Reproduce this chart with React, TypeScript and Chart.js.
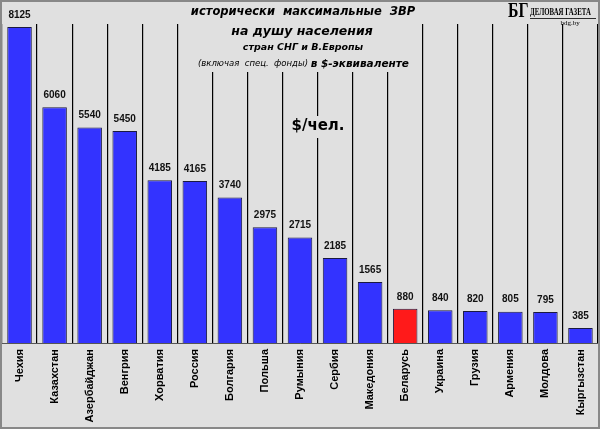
import React, { useEffect, useRef } from 'react';
import Chart from 'chart.js/auto';

const countries = ['Чехия', 'Казахстан', 'Азербайджан', 'Венгрия', 'Хорватия', 'Россия', 'Болгария', 'Польша', 'Румыния', 'Сербия', 'Македония', 'Беларусь', 'Украина', 'Грузия', 'Армения', 'Молдова', 'Кыргызстан'];
const reserves = [8125, 6060, 5540, 5450, 4185, 4165, 3740, 2975, 2715, 2185, 1565, 880, 840, 820, 805, 795, 385];
const highlight = 'Беларусь';

const BG = '#e0e0e0';

const App: React.FC = () => {
  const chartRef = useRef<HTMLCanvasElement | null>(null);

  useEffect(() => {
    document.body.style.margin = '0';
    if (!chartRef.current) return;
    const ctx = chartRef.current.getContext('2d') as CanvasRenderingContext2D;

    const decor = {
      id: 'decor',
      beforeDraw(chart: any) {
        const c = chart.ctx;
        c.save();
        c.fillStyle = BG;
        c.fillRect(0, 0, chart.width, chart.height);
        c.restore();
      },
      afterDatasetsDraw(chart: any) {
        const c = chart.ctx;
        const meta = chart.getDatasetMeta(0);
        c.save();
        // value labels
        c.fillStyle = '#111';
        c.font = 'bold 10px "Liberation Sans", Arial, sans-serif';
        c.textAlign = 'center';
        c.textBaseline = 'bottom';
        meta.data.forEach((bar: any, i: number) => {
          c.fillText(String(reserves[i]), bar.x, bar.y - 7);
        });
        // cover grid under title and logo
        c.fillStyle = BG;
        c.fillRect(192, 0, 224, 72);
        c.fillRect(420, 0, 180, 24);
        // title
        c.fillStyle = '#000';
        c.textAlign = 'center';
        c.textBaseline = 'middle';
        c.font = 'italic bold 11.5px "DejaVu Sans", sans-serif';
        c.fillText('исторически  максимальные  ЗВР', 303, 12);
        c.font = 'italic bold 12.5px "DejaVu Sans", sans-serif';
        c.fillText('на душу населения', 302, 32);
        c.font = 'italic bold 9.5px "DejaVu Sans", sans-serif';
        c.fillText('стран СНГ и В.Европы', 303, 48);
        c.font = 'italic 8.5px "DejaVu Sans", sans-serif';
        c.textAlign = 'right';
        c.fillText('(включая  спец.  фонды)', 308, 64);
        c.font = 'italic bold 10.5px "DejaVu Sans", sans-serif';
        c.textAlign = 'left';
        c.fillText(' в $-эквиваленте', 307, 64);
        c.font = 'bold 15px "DejaVu Sans", sans-serif';
        c.textAlign = 'center';
        c.fillStyle = BG;
        c.fillRect(293, 116, 50, 22);
        c.fillStyle = '#000';
        c.fillText('$/чел.', 318, 126);
        // logo
        c.font = 'bold 22px "Liberation Serif", serif';
        c.textAlign = 'left';
        c.save();
        c.translate(508, 11);
        c.scale(0.72, 1);
        c.fillText('БГ', 0, 0);
        c.restore();
        c.save();
        c.translate(530, 12);
        c.scale(0.62, 1);
        c.font = 'bold 11px "Liberation Serif", serif';
        c.fillText('ДЕЛОВАЯ ГАЗЕТА', 0, 0);
        c.restore();
        c.fillRect(530, 18, 66, 0.8);
        c.font = '7px "Liberation Serif", serif';
        c.textAlign = 'center';
        c.fillText('bdg.by', 570, 23);
        // frame
        c.strokeStyle = '#888';
        c.lineWidth = 2;
        c.strokeRect(1, 1, chart.width - 2, chart.height - 2);
        c.restore();
      },
    };

    const chart = new Chart(ctx, {
      type: 'bar',
      data: {
        labels: countries,
        datasets: [
          {
            data: reserves,
            backgroundColor: countries.map((c) => (c === highlight ? '#ff1a1a' : '#3333ff')),
            borderColor: '#1a1a40',
            borderWidth: 1,
            barPercentage: 0.7,
            categoryPercentage: 1,
          },
        ],
      },
      options: {
        animation: false,
        responsive: false,
        layout: { padding: { top: 24, left: 2, right: 2, bottom: 0 } },
        plugins: { legend: { display: false }, tooltip: { enabled: false } },
        scales: {
          x: {
            offset: true,
            grid: { offset: true, color: '#000', lineWidth: 1.2, drawTicks: false },
            border: { color: '#555', width: 1 },
            ticks: {
              color: '#000',
              font: { family: '"Liberation Sans", Arial, sans-serif', size: 11, weight: 'bold' },
              minRotation: 90,
              maxRotation: 90,
              padding: 6,
              autoSkip: false,
            },
            afterFit: (scale: any) => {
              scale.height = 86;
            },
          },
          y: {
            display: false,
            min: 0,
            max: 8200,
          },
        },
      },
      plugins: [decor],
    });

    return () => chart.destroy();
  }, []);

  return <canvas ref={chartRef} width={600} height={429} />;
};

export default App;
